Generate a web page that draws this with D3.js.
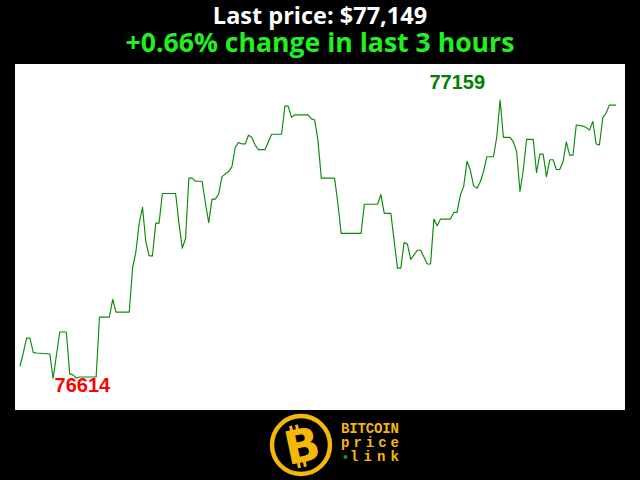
<!DOCTYPE html>
<html>
<head>
<meta charset="utf-8">
<script src="https://cdn.jsdelivr.net/npm/d3@7"></script>
<style>
html,body{margin:0;padding:0;background:#000;}
svg{display:block;}
</style>
</head>
<body>
<svg id="chart" width="640" height="480"></svg>
<script>
// ---- data (minute offset within the last 3 hours, price in USD) ----
const minutes = [0,1,2,3,4,5,9,10,12,14,15,16,17,18,23,24,27,28,29,33,34,35,36,37,38,39,40,41,42,43,47,48,49,50,51,52,53,55,56,57,58,59,60,61,63,64,65,66,67,68,69,70,71,72,74,76,79,80,81,82,83,87,88,89,90,91,95,96,97,103,104,108,109,110,112,114,115,116,117,118,120,121,123,124,125,126,127,130,131,132,133,134,135,136,137,138,139,140,141,143,144,145,146,148,149,150,151,152,153,155,156,157,158,159,160,161,162,163,164,165,166,167,168,170,171,172,173,174,175,176,177,178,180];
const prices = [76638,76664,76693,76693,76665,76664,76662,76614,76705,76705,76623,76621,76615,76617,76617,76734,76734,76769,76744,76744,76830,76862,76918,76949,76882,76854,76854,76918,76918,76976,76976,76918,76869,76888,77006,77006,77000,77000,76957,76919,76965,76965,76975,77009,77019,77028,77066,77076,77073,77073,77090,77086,77071,77062,77062,77092,77092,77147,77147,77125,77130,77130,77122,77120,77079,77006,77006,76957,76898,76898,76955,76955,76974,76937,76937,76830,76830,76880,76877,76847,76865,76865,76838,76838,76926,76913,76926,76926,76939,76939,76973,76990,77039,77022,76991,76986,76999,77019,77048,77048,77087,77159,77086,77086,77077,77058,76980,77022,77082,77082,77017,77053,77053,77009,77042,77042,77023,77023,77038,77077,77051,77051,77110,77108,77105,77100,77117,77073,77071,77124,77133,77149,77149];
const titleLines = ["Last price: $77,149", "+0.66% change in last 3 hours"];
const logoWords = ["BITCOIN", "price", "link"];

const data = minutes.map((m, i) => ({m, p: prices[i]}));

const svg = d3.select("#chart");
const W = 640, H = 480;
const plot = {x: 15, y: 64, w: 610, h: 346};

svg.append("rect").attr("width", W).attr("height", H).attr("fill", "#000");

// titles
svg.append("text").attr("x", 320).attr("y", 24)
  .attr("text-anchor", "middle")
  .attr("font-family", "'Open Sans', sans-serif").attr("font-weight", 700)
  .attr("font-size", 23.5).attr("fill", "#ffffff")
  .text(titleLines[0]);
svg.append("text").attr("x", 320).attr("y", 52)
  .attr("text-anchor", "middle")
  .attr("font-family", "'Open Sans', sans-serif").attr("font-weight", 700)
  .attr("font-size", 26.6).attr("fill", "#22f022")
  .text(titleLines[1]);

// plot area
svg.append("rect").attr("x", plot.x).attr("y", plot.y)
  .attr("width", plot.w).attr("height", plot.h).attr("fill", "#ffffff");

const minP = d3.min(prices), maxP = d3.max(prices);
const x = d3.scaleLinear().domain([0, 180]).range([20, 616]);
const y = d3.scaleLinear().domain([minP, maxP]).range([378.5, 100]);

const line = d3.line().x(d => x(d.m)).y(d => y(d.p));
svg.append("path").datum(data)
  .attr("d", line)
  .attr("fill", "none")
  .attr("stroke", "#0a8a0a")
  .attr("stroke-width", 1.15)
  .attr("stroke-linejoin", "round");

// min / max labels
const minD = data.find(d => d.p === minP);
const maxD = data.find(d => d.p === maxP);
svg.append("text")
  .attr("x", x(minD.m) + 1.5).attr("y", y(minD.p) + 13)
  .attr("font-family", "'Liberation Sans', Arial, sans-serif").attr("font-weight", 700)
  .attr("font-size", 20).attr("fill", "#ff0000")
  .text(minP);
svg.append("text")
  .attr("x", x(maxD.m) - 15).attr("y", y(maxD.p) - 11)
  .attr("text-anchor", "end")
  .attr("font-family", "'Liberation Sans', Arial, sans-serif").attr("font-weight", 700)
  .attr("font-size", 20).attr("fill", "#008000")
  .text(maxP);

// logo
const gold = "#f5b80a";
const logo = svg.append("g");
logo.append("circle").attr("cx", 301).attr("cy", 445).attr("r", 29)
  .attr("fill", "none").attr("stroke", gold).attr("stroke-width", 4.5);
const bG = logo.append("g").attr("transform", "translate(302,446) rotate(-12)");
bG.append("text").attr("x", 0).attr("y", 16)
  .attr("text-anchor", "middle")
  .attr("font-family", "'DejaVu Sans', sans-serif").attr("font-weight", 700)
  .attr("font-size", 46).attr("fill", gold).text("B");
[-7, -1].forEach(dx => {
  bG.append("rect").attr("x", dx - 1.5).attr("y", -22).attr("width", 3).attr("height", 6).attr("fill", gold);
  bG.append("rect").attr("x", dx - 1.5).attr("y", 15).attr("width", 3).attr("height", 6).attr("fill", gold);
});
const mono = "'Liberation Mono', 'DejaVu Sans Mono', monospace";
const logoText = [
  {w: logoWords[0], x: 341, y: 433, len: 58},
  {w: logoWords[1], x: 341, y: 447, len: 58},
  {w: logoWords[2], x: 350, y: 461, len: 49}
];
logoText.forEach(t => {
  logo.append("text").attr("x", t.x).attr("y", t.y)
    .attr("font-family", mono).attr("font-weight", 700).attr("font-size", 14)
    .attr("textLength", t.len).attr("lengthAdjust", "spacing")
    .attr("fill", gold).text(t.w);
});
logo.append("circle").attr("cx", 345.5).attr("cy", 457).attr("r", 2).attr("fill", "#1a9a1a");
</script>
</body>
</html>
